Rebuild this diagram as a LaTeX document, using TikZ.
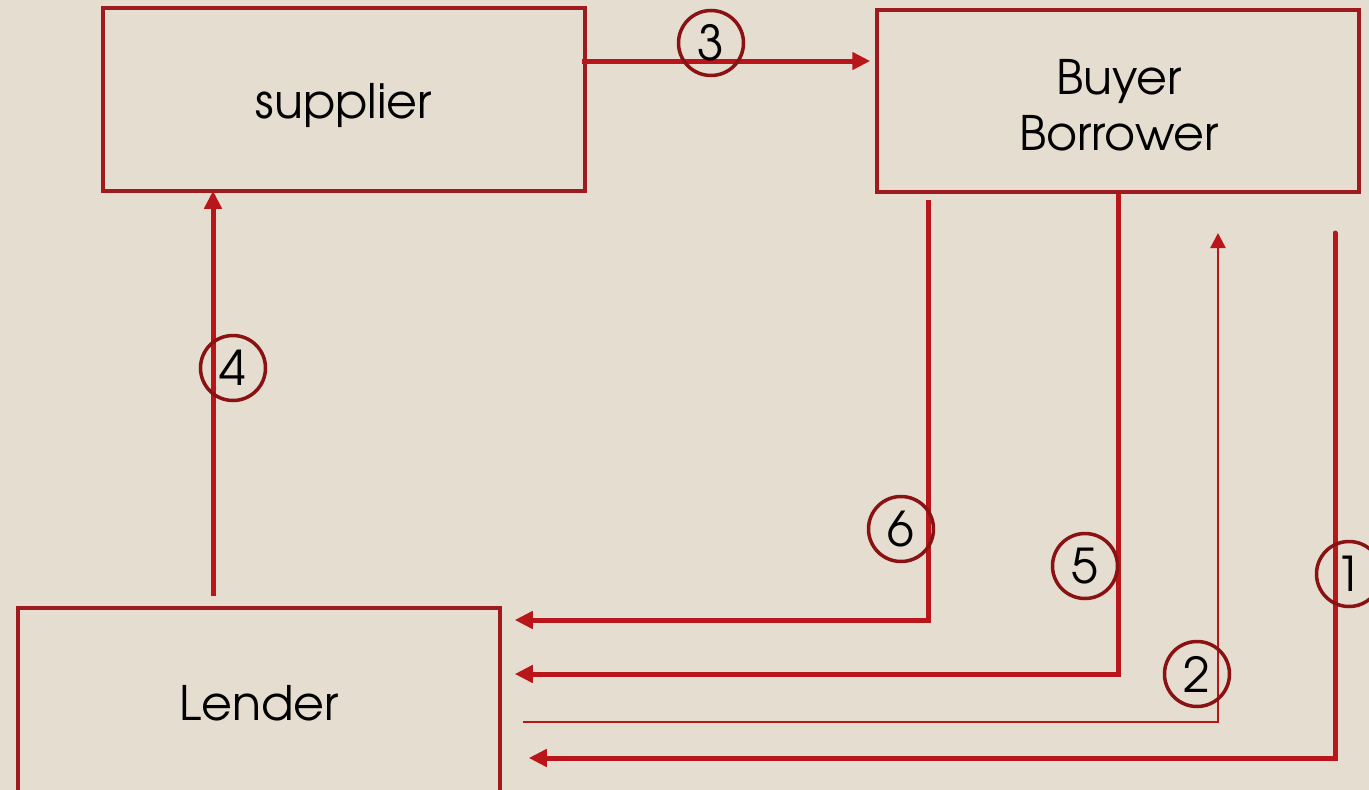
\documentclass[tikz,border=0pt]{standalone}
\usepackage{fontspec}
\setmainfont{texgyreadventor}[Extension=.otf,UprightFont=*-regular]
\usetikzlibrary{arrows.meta}
\definecolor{paper}{RGB}{229,221,208}
\definecolor{boxred}{RGB}{158,26,30}
\definecolor{flowred}{RGB}{184,22,26}
\definecolor{ringred}{RGB}{138,18,18}
\tikzset{
  partyfont/.style={font=\fontsize{47.5}{56}\selectfont,align=center,text=black},
  party/.style={draw=boxred,line width=3.5pt,rectangle,inner sep=0pt,partyfont},
  flow/.style={draw=flowred,line width=5pt,
    -{Triangle[length=18pt,width=17pt]}},
  thinflow/.style={draw=flowred,line width=2.5pt,
    -{Triangle[length=15pt,width=15pt]}},
  stepnum/.style={draw=ringred,line width=3.5pt,circle,minimum size=65pt,
    inner sep=0pt,font=\fontsize{48}{48}\selectfont,text=black},
}
\begin{document}
\begin{tikzpicture}[x=1pt,y=-1pt]
\useasboundingbox (0,0) rectangle (1369,790);
\clip (0,0) rectangle (1369,790);
\fill[paper] (0,0) rectangle (1369,790);

% the three parties
\node[party,minimum width=482pt,minimum height=183pt,
  label={[partyfont,yshift=-6pt]center:supplier}] (supplier) at (344,99.5) {};
\node[party,minimum width=482pt,minimum height=182pt,
  label={[partyfont,yshift=-4pt,xshift=1pt]center:Buyer\\Borrower}] (buyer) at (1118,101) {};
\node[party,minimum width=482pt,minimum height=190pt] (lender) at (259,703) {Lender};

% bends and free ends of the connectors
\coordinate (s3) at (582,61);
\coordinate (s4) at (213,596);
\coordinate (s6) at (928,200);
\coordinate (b6) at (928,620);
\coordinate (b5) at (1118,674);
\coordinate (s2) at (523,722);
\coordinate (b2) at (1218,722);
\coordinate (e2) at (1218,233);
\coordinate (s1) at (1335,233);
\coordinate (b1) at (1335,758);

% step 3: goods to the buyer
\draw[flow,shorten >=5pt] (s3) -- (s3 -| buyer.west);
% step 4: lender pays the supplier
\draw[flow,shorten >=-2pt] (s4) -- (s4 |- supplier.south);
% step 6
\draw[flow,shorten >=13pt] (s6) -- (b6) -- (b6 -| lender.east);
% step 5
\draw[flow,shorten >=13pt] (buyer.south) -- (b5) -- (b5 -| lender.east);
% step 2
\draw[thinflow] (s2) -- (b2) -- (e2);
% step 1
\draw[flow,line cap=round,shorten >=27pt] (s1) -- (b1) -- (b1 -| lender.east);

% step numbers
\node[stepnum] (n3) at (711,43) {3};
\node[stepnum] (n4) at (233,368) {4};
\node[stepnum] (n6) at (901,529) {6};
\node[stepnum] (n5) at (1085,566) {5};
\node[stepnum] (n2) at (1197,674) {2};
\node[stepnum] (n1) at (1349,574) {1};
\end{tikzpicture}
\end{document}
